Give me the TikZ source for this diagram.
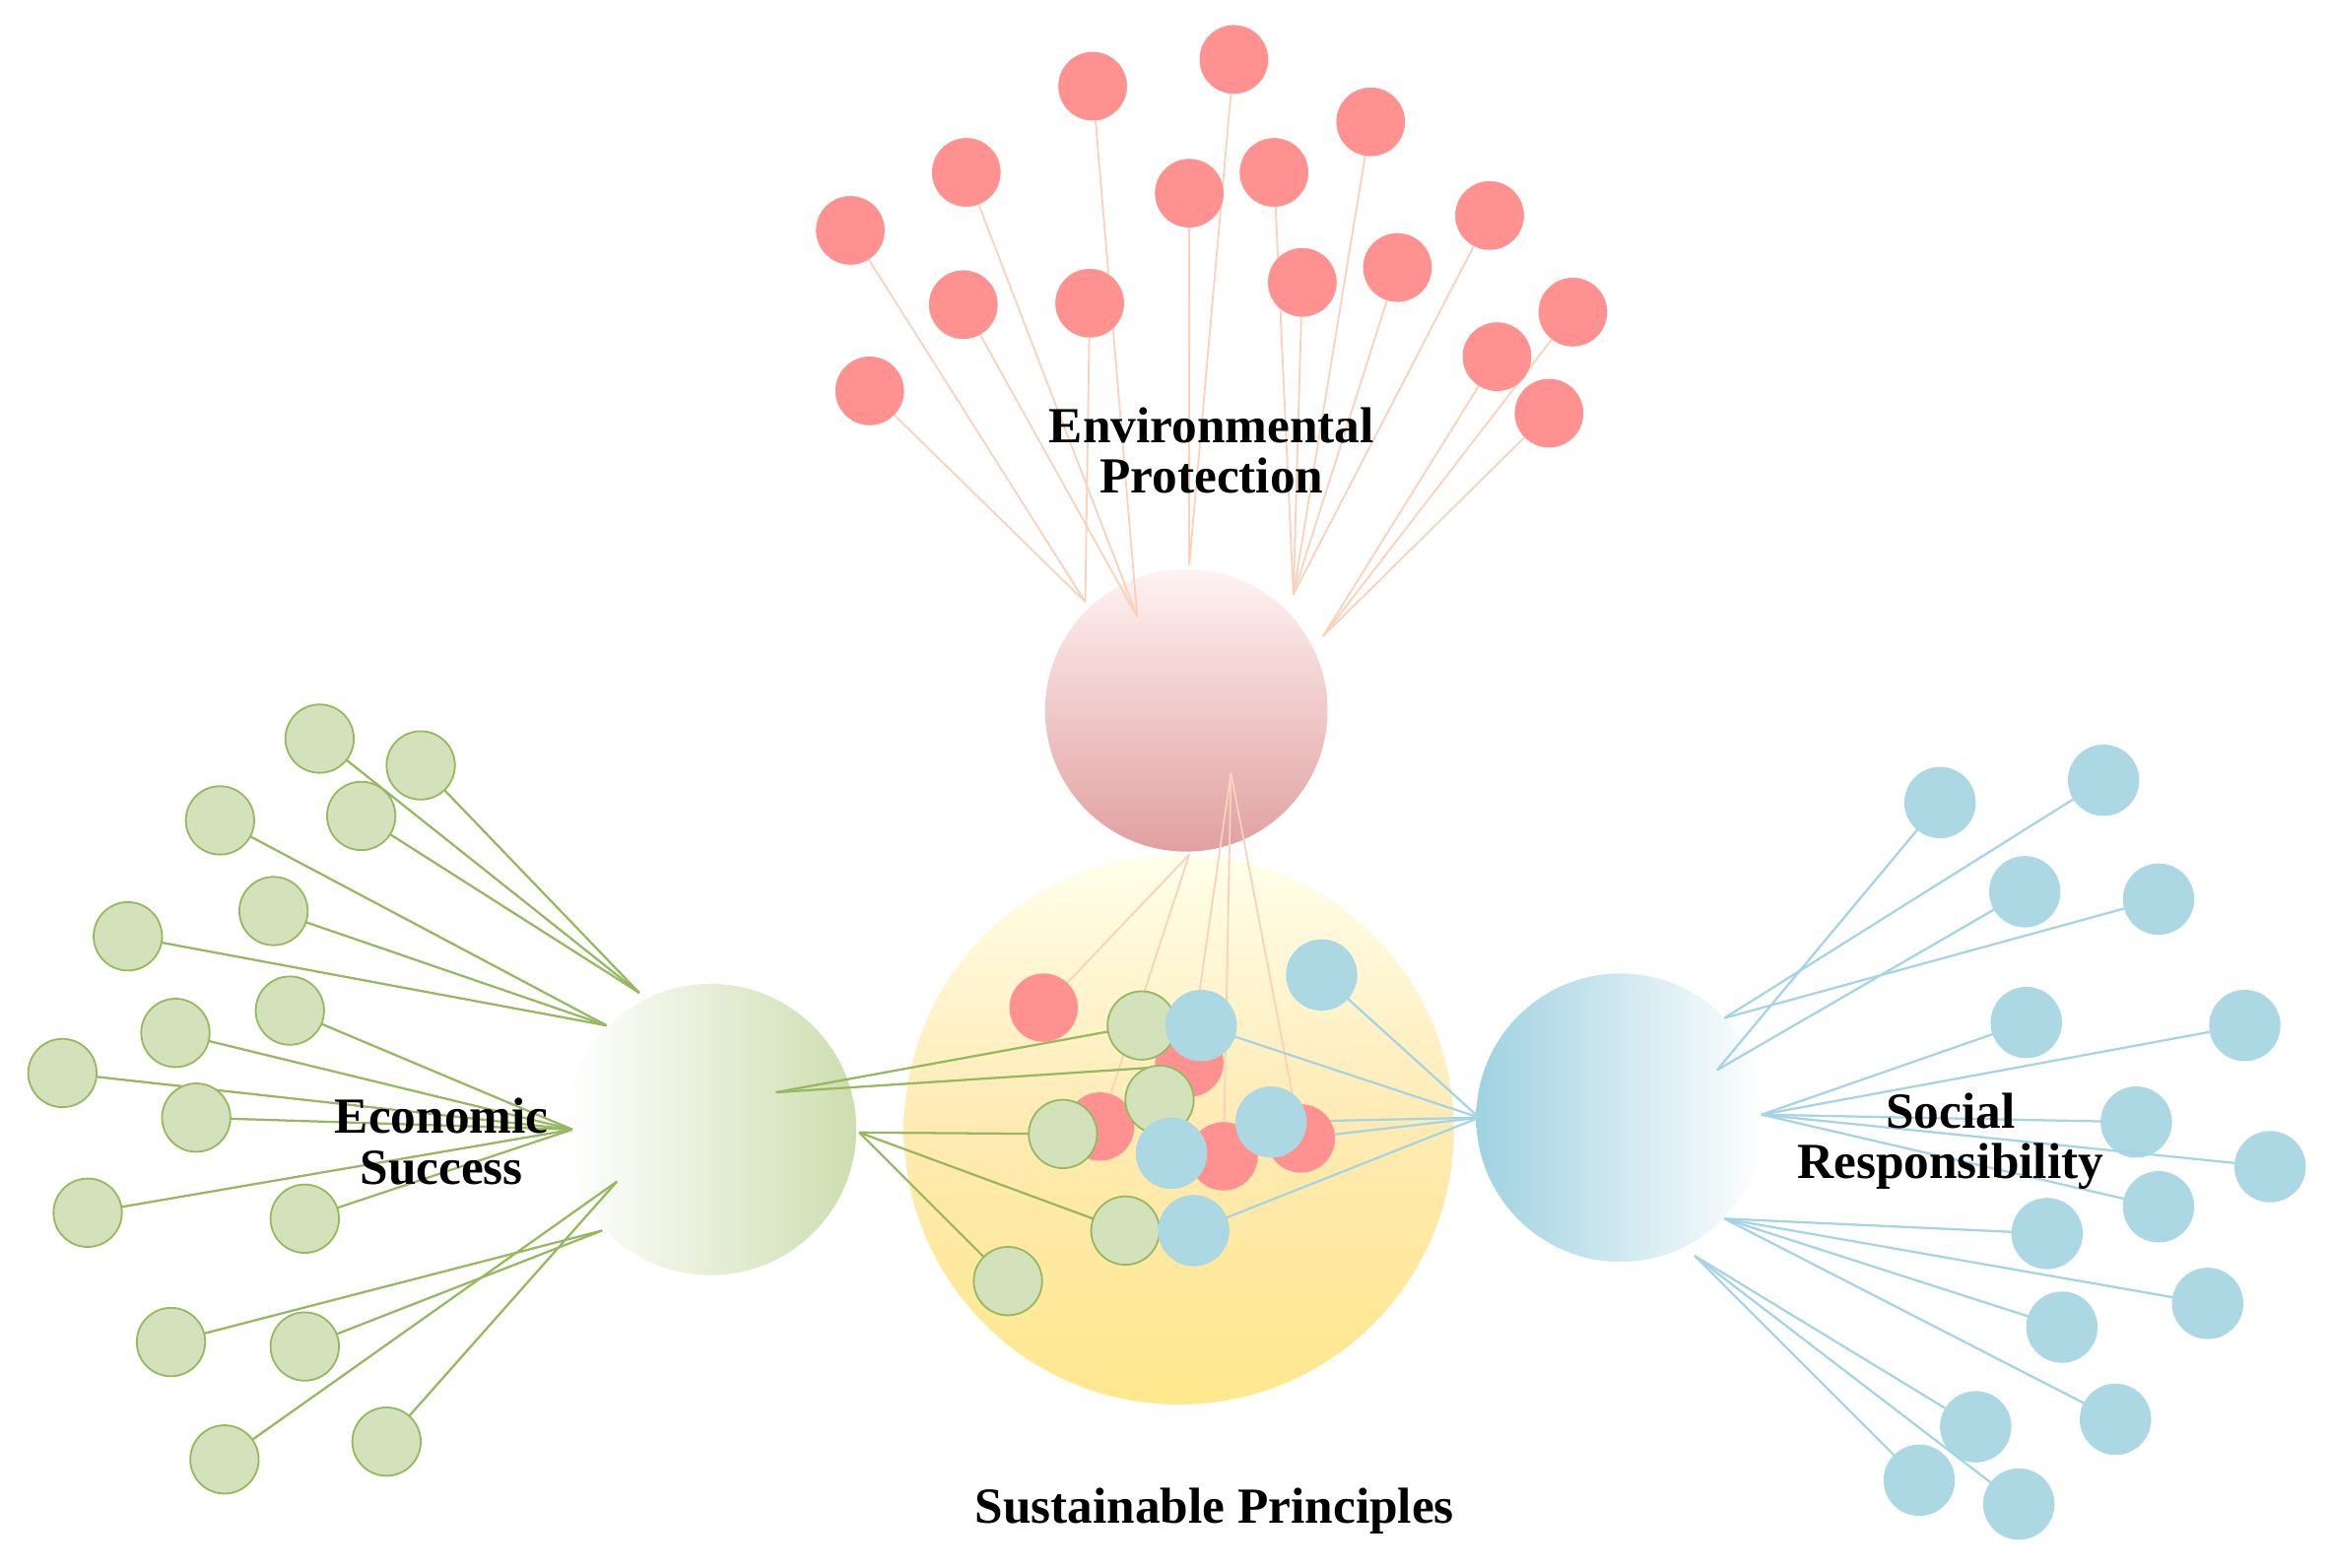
\documentclass[tikz,border=0pt]{standalone}
\usepackage{fontspec}
\setmainfont{Liberation Serif}
\definecolor{pk}{RGB}{255,145,145}
\definecolor{pkl}{RGB}{250,210,185}
\definecolor{gf}{RGB}{212,226,188}
\definecolor{gd}{RGB}{150,185,95}
\definecolor{bf}{RGB}{172,216,228}
\definecolor{bl}{RGB}{165,212,228}
\tikzset{pdot/.style={circle,fill=pk,minimum size=46pt,inner sep=0pt},
gdot/.style={circle,fill=gf,draw=gd,line width=1.2pt,minimum size=46pt,inner sep=0pt},
bdot/.style={circle,fill=bf,minimum size=48pt,inner sep=0pt},
lbl/.style={font=\fontsize{34}{40}\selectfont\bfseries,align=center}}
\begin{document}
\begin{tikzpicture}[x=1pt,y=-1pt]
\useasboundingbox (0,0) rectangle (1568,1055);
% big circles
\shade[top color=yellow!8!white,bottom color=yellow!60!orange!45,middle color=yellow!45!orange!30] (793,760) circle (185);
\shade[top color=pink!20!white,bottom color={rgb,255:red,225;green,160;blue,160}] (798,478) circle (95);
\shade[left color=white,right color={rgb,255:red,205;green,222;blue,175}] (478,760) circle (98);
\shade[right color=white,left color={rgb,255:red,160;green,210;blue,225}] (1090,752) circle (97);
% anchors
\coordinate (e1) at (765,415);\coordinate (e2) at (730,405);\coordinate (e3) at (800,380);
\coordinate (e4) at (870,400);\coordinate (e5) at (890,428);
\coordinate (g1) at (430,668);\coordinate (g2) at (408,690);\coordinate (g3) at (385,760);
\coordinate (g4) at (415,795);\coordinate (g5) at (405,828);
\coordinate (b1) at (1160,685);\coordinate (b2) at (1155,720);\coordinate (b3) at (1185,750);
\coordinate (b4) at (1160,820);\coordinate (b5) at (1140,845);
% pink outer
\foreach \p/\a in {735/58/e1,830/40/e3,922/82/e4,650/116/e1,800/130/e3,857/116/e4,572/155/e2,1002/145/e4,648/205/e1,733/204/e2,876/190/e4,940/180/e4,1058/210/e5,1007/240/e5,585/263/e2,1042/278/e5}{
\pgfmathsetmacro{\xx}{\p}}
\foreach \i/\x/\y/\a in {1/735/58/e1,2/830/40/e3,3/922/82/e4,4/650/116/e1,5/800/130/e3,6/857/116/e4,7/572/155/e2,8/1002/145/e4,9/648/205/e1,10/733/204/e2,11/876/190/e4,12/940/180/e4,13/1058/210/e5,14/1007/240/e5,15/585/263/e2,16/1042/278/e5}{
\node[pdot] (p\i) at (\x,\y) {};
\begin{scope}[on background layer/.style={}]\end{scope}
}
\begin{scope}
\foreach \i/\a in {1/e1,2/e3,3/e4,4/e1,5/e3,6/e4,7/e2,8/e4,9/e1,10/e2,11/e4,12/e4,13/e5,14/e5,15/e2,16/e5}
\draw[pkl,line width=1.2pt] (p\i.center) -- (\a);
\end{scope}
\foreach \i/\x/\y in {1/735/58,2/830/40,3/922/82,4/650/116,5/800/130,6/857/116,7/572/155,8/1002/145,9/648/205,10/733/204,11/876/190,12/940/180,13/1058/210,14/1007/240,15/585/263,16/1042/278}
\node[pdot] at (\x,\y) {};
% green outer
\foreach \i/\x/\y/\a in {1/215/497/g1,2/283/515/g1,3/148/552/g2,4/243/549/g1,5/184/613/g2,6/86/630/g2,7/195/680/g3,8/118/695/g3,9/42/722/g3,10/132/752/g3,11/59/816/g3,12/205/820/g3,13/115/903/g5,14/205/906/g5,15/151/982/g4,16/260/970/g4}{
\draw[gd,line width=1.5pt] (\x,\y) -- (\a);
\node[gdot] (gg\i) at (\x,\y) {};}
% blue outer
\foreach \i/\x/\y/\a in {1/1305/540/b2,2/1415/525/b1,3/1362/600/b2,4/1452/605/b1,5/1363/688/b3,6/1510/690/b3,7/1437/755/b3,8/1527/785/b3,9/1452/812/b3,10/1377/830/b4,11/1387/893/b4,12/1485/877/b4,13/1423/955/b4,14/1329/960/b5,15/1291/996/b5,16/1358/1012/b5}{
\draw[bl,line width=1.5pt] (\x,\y) -- (\a);
\node[bdot] (bb\i) at (\x,\y) {};}
% inner lines
\coordinate (ep) at (800,575); \coordinate (ep2) at (828,520);
\coordinate (gp) at (522,735); \coordinate (gp2) at (578,762);
\coordinate (bp) at (995,752);
\foreach \x/\y/\c in {702/678/ep,800/715/ep2,740/758/ep,823/778/ep2,875/766/ep2}
\draw[pkl,line width=1.2pt] (\c) -- (\x,\y);
\foreach \x/\y/\c in {768/690/gp,780/718/gp,715/763/gp2,757/828/gp2,678/862/gp2}
\draw[gd,line width=1.5pt] (\c) -- (\x,\y);
\foreach \x/\y in {889/656,808/690,855/755,788/776,803/828}
\draw[bl,line width=1.5pt] (bp) -- (\x,\y);
% inner dots
\foreach \i/\x/\y in {1/702/678,2/800/715,3/740/758,4/823/778,5/875/766}
\node[pdot] (ip\i) at (\x,\y) {};
\foreach \i/\x/\y in {1/768/690,2/780/740,3/715/763,4/757/828,5/678/862}
\node[gdot] (ig\i) at (\x,\y) {};
\foreach \i/\x/\y in {1/889/656,2/808/690,3/855/755,4/788/776,5/803/828}
\node[bdot] (ib\i) at (\x,\y) {};
% labels
\node[lbl] (le) at (815,303) {Environmental\\[-6pt]Protection};
\node[lbl] (lg) at (297,768) {Economic\\[-6pt]Success};
\node[lbl] (lb) at (1312,768) {Social\\[-6pt]Responsibility};
\node[lbl] (ls) at (817,1017) {Sustainable Principles};
\end{tikzpicture}
\end{document}
